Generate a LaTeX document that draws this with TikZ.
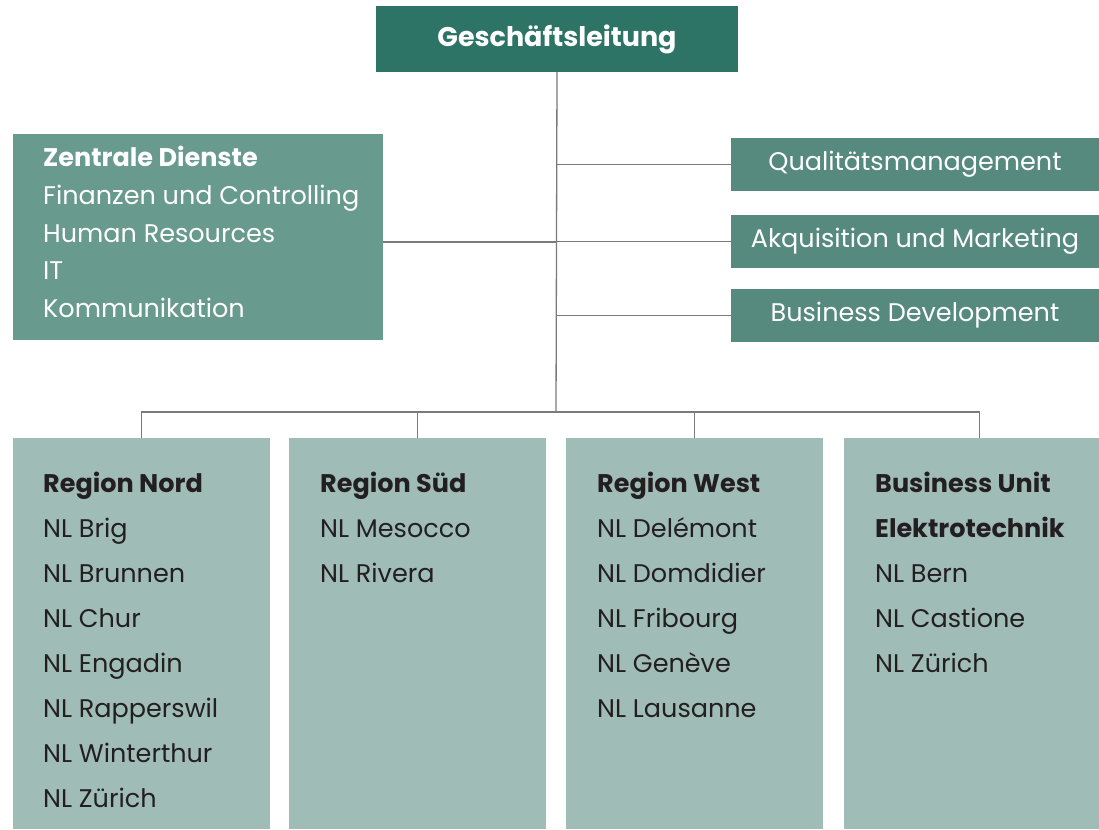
\documentclass[tikz,border=0pt]{standalone}
\usepackage{fontspec}
\setmainfont{Poppins}
\usetikzlibrary{positioning}

\definecolor{gldark}{HTML}{2D7466}
\definecolor{zdgreen}{HTML}{689A8D}
\definecolor{stabgreen}{HTML}{578A7E}
\definecolor{regiongreen}{HTML}{9FBCB6}
\definecolor{linegray}{HTML}{7A7A7A}
\definecolor{textdark}{HTML}{231F20}

% Zeilen untereinander, Grundlinie = erste Zeile
\newcommand{\boxlines}[1]{\begin{tabular}[t]{@{}l@{}}#1\end{tabular}}

\tikzset{
  box/.style={anchor=north west, inner sep=0pt, outer sep=0pt},
  glbox/.style={box, fill=gldark, text=white, minimum width=362, minimum height=66,
    font=\fontsize{27}{30}\selectfont\bfseries},
  stabbox/.style={box, fill=stabgreen, text=white, minimum width=368, minimum height=53,
    font=\fontsize{25.5}{30}\selectfont},
  regbox/.style={box, fill=regiongreen, minimum width=257, minimum height=391},
  listtext/.style={anchor=base west, inner sep=0pt},
  conn/.style={draw=linegray, line width=1.3}
}

\begin{document}
\begin{tikzpicture}[x=1pt,y=-1pt]
  \useasboundingbox (0,0) rectangle (1099,829);

  % Leitung
  \node[glbox] (gl) at (376,6) {Geschäftsleitung};

  % Zentrale Dienste
  \node[box, fill=zdgreen, minimum width=370, minimum height=206] (zd) at (13,134) {};
  \node[listtext, text=white, font=\fontsize{25.5}{37.5}\selectfont] (zdtext) at (43,167)
    {\boxlines{\textbf{Zentrale Dienste}\\Finanzen und Controlling\\Human Resources\\IT\\Kommunikation}};

  % Stabsstellen
  \node[stabbox] (qm) at (731,138) {Qualitätsmanagement};
  \node[stabbox] (am) at (731,215) {Akquisition und Marketing};
  \node[stabbox] (bd) at (731,289) {Business Development};

  % Regionen
  \node[regbox] (nord) at (13,438) {};
  \node[regbox] (sued) at (289,438) {};
  \node[regbox] (west) at (566,438) {};
  \node[regbox, minimum width=255] (bu) at (844,438) {};

  \node[listtext, text=textdark, font=\fontsize{25.5}{45}\selectfont] (nordtext) at (43,492)
    {\boxlines{\textbf{Region Nord}\\NL Brig\\NL Brunnen\\NL Chur\\NL Engadin\\NL Rapperswil\\NL Winterthur\\NL Zürich}};
  \node[listtext, text=textdark, font=\fontsize{25.5}{45}\selectfont] (suedtext) at (320,492)
    {\boxlines{\textbf{Region Süd}\\NL Mesocco\\NL Rivera}};
  \node[listtext, text=textdark, font=\fontsize{25.5}{45}\selectfont] (westtext) at (597,492)
    {\boxlines{\textbf{Region West}\\NL Delémont\\NL Domdidier\\NL Fribourg\\NL Genève\\NL Lausanne}};
  \node[listtext, text=textdark, font=\fontsize{25.5}{45}\selectfont] (butext) at (875,492)
    {\boxlines{\textbf{Business Unit}\\\textbf{Elektrotechnik}\\NL Bern\\NL Castione\\NL Zürich}};

  % Linien
  \coordinate (bus) at (556,412);
  \coordinate (zdout) at ([yshift=-5]zd.east);
  \draw[conn] (gl.south) -- (bus);
  \draw[conn] (zdout) -- (zdout -| bus);
  \draw[conn] (qm.west) -- (qm.west -| bus);
  \draw[conn] (am.west) -- (am.west -| bus);
  \draw[conn] (bd.west) -- (bd.west -| bus);
  \draw[conn] (nord.north) |- (bus) -| ([xshift=8]bu.north);
  \draw[conn] (sued.north) -- (sued.north |- bus);
  \draw[conn] (west.north) -- (west.north |- bus);
\end{tikzpicture}
\end{document}
